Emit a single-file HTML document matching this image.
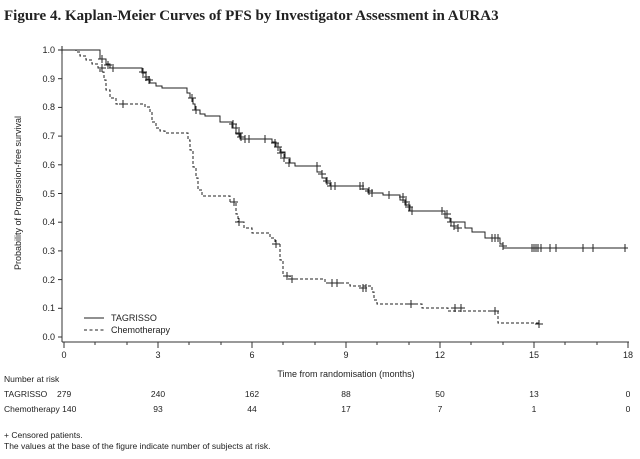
<!DOCTYPE html>
<html><head><style>
body{margin:0;background:#fff;width:640px;height:454px;overflow:hidden}
svg text{font-family:"Liberation Sans",sans-serif;fill:#222}
</style></head><body>
<svg width="640" height="454" xmlns="http://www.w3.org/2000/svg">
<text x="4" y="20" style="font-family:'Liberation Serif',serif;font-weight:bold;font-size:15px" fill="#000">Figure 4. Kaplan-Meier Curves of PFS by Investigator Assessment in AURA3</text>
<g stroke="#333" stroke-width="1" fill="none">
<line x1="62" y1="48" x2="62" y2="342"/>
<line x1="62" y1="342" x2="629" y2="342"/>
<g id="yt">
<line x1="58" y1="50" x2="62" y2="50"/><line x1="58" y1="78.7" x2="62" y2="78.7"/><line x1="58" y1="107.4" x2="62" y2="107.4"/><line x1="58" y1="136.1" x2="62" y2="136.1"/><line x1="58" y1="164.8" x2="62" y2="164.8"/><line x1="58" y1="193.5" x2="62" y2="193.5"/><line x1="58" y1="222.2" x2="62" y2="222.2"/><line x1="58" y1="250.9" x2="62" y2="250.9"/><line x1="58" y1="279.6" x2="62" y2="279.6"/><line x1="58" y1="308.3" x2="62" y2="308.3"/><line x1="58" y1="337" x2="62" y2="337"/>
</g>
<line x1="64" y1="342" x2="64" y2="348"/><line x1="158" y1="342" x2="158" y2="348"/><line x1="252" y1="342" x2="252" y2="348"/><line x1="346" y1="342" x2="346" y2="348"/><line x1="440" y1="342" x2="440" y2="348"/><line x1="534" y1="342" x2="534" y2="348"/><line x1="628" y1="342" x2="628" y2="348"/>
<line x1="95" y1="342" x2="95" y2="345"/><line x1="127" y1="342" x2="127" y2="345"/><line x1="189" y1="342" x2="189" y2="345"/><line x1="221" y1="342" x2="221" y2="345"/><line x1="283" y1="342" x2="283" y2="345"/><line x1="315" y1="342" x2="315" y2="345"/><line x1="377" y1="342" x2="377" y2="345"/><line x1="409" y1="342" x2="409" y2="345"/><line x1="471" y1="342" x2="471" y2="345"/><line x1="503" y1="342" x2="503" y2="345"/><line x1="565" y1="342" x2="565" y2="345"/><line x1="597" y1="342" x2="597" y2="345"/>
</g>
<g font-size="9" text-anchor="end">
<text x="55" y="53">1.0</text><text x="55" y="82">0.9</text><text x="55" y="110">0.8</text><text x="55" y="139">0.7</text><text x="55" y="168">0.6</text><text x="55" y="197">0.5</text><text x="55" y="225">0.4</text><text x="55" y="254">0.3</text><text x="55" y="283">0.2</text><text x="55" y="311">0.1</text><text x="55" y="340">0.0</text>
</g>
<text transform="translate(21,193) rotate(-90)" font-size="9" text-anchor="middle">Probability of Progression-free survival</text>
<g font-size="9" text-anchor="middle">
<text x="64" y="358">0</text><text x="158" y="358">3</text><text x="252" y="358">6</text><text x="346" y="358">9</text><text x="440" y="358">12</text><text x="534" y="358">15</text><text x="628" y="358">18</text>
<text x="346" y="377">Time from randomisation (months)</text>
</g>
<g font-size="8.5">
<text x="4" y="382">Number at risk</text>
<text x="4" y="397">TAGRISSO</text><text x="57" y="397">279</text>
<text x="4" y="412">Chemotherapy 140</text>
<text x="4" y="438">+ Censored patients.</text>
<text x="4" y="449">The values at the base of the figure indicate number of subjects at risk.</text>
</g>
<g font-size="8.5" text-anchor="middle">
<text x="158" y="397">240</text><text x="252" y="397">162</text><text x="346" y="397">88</text><text x="440" y="397">50</text><text x="534" y="397">13</text><text x="628" y="397">0</text>
<text x="158" y="412">93</text><text x="252" y="412">44</text><text x="346" y="412">17</text><text x="440" y="412">7</text><text x="534" y="412">1</text><text x="628" y="412">0</text>
</g>
<g fill="none" stroke="#222" stroke-width="1">
<path d="M64,50 H100 V59 H106 V64 H110 V68 H142 V73 H146 V79 H150 V83 H156 V86 H162 V88 H187 V93 H190 V98 H193 V104 H195 V110 H200 V114 H205 V116 H220 V122 H232 V128 H236 V134 H240 V139 H272 V142 H276 V147 H280 V152 H285 V158 H290 V163 H295 V166 H317 V172 H322 V178 H326 V183 H330 V186 H360 V189 H368 V193 H383 V195 H400 V200 H405 V205 H410 V211 H445 V218 H450 V222 H465 V228 H472 V232 H485 V238 H500 V244 H503 V248 H628"/>
<path stroke-dasharray="3,2" d="M64,50 H76 V52 H80 V56 H86 V60 H92 V64 H98 V68 H100 V72 H104 V80 H106 V90 H110 V98 H116 V104 H145 V107 H150 V112 H152 V122 H156 V128 H160 V131 H165 V133 H188 V140 H190 V150 H193 V167 H196 V178 H198 V190 H202 V196 H230 V202 H236 V214 H238 V222 H244 V228 H252 V233 H270 V238 H275 V244 H280 V260 H283 V276 H290 V279 H325 V283 H350 V286 H372 V292 H374 V300 H377 V304 H422 V308 H448 V311 H498 V323 H540"/>
</g>
<g stroke="#222" stroke-width="1">
<path d="M62,46v8M58,50h8 M102,55v8M98,59h8 M108,61v8M104,65h8 M113,64v8M109,68h8 M143,68v8M139,72h8 M146,73v8M142,77h8 M149,76v8M145,80h8 M192,94v8M188,98h8 M196,106v8M192,110h8 M233,120v8M229,124h8 M236,124v8M232,128h8 M239,129v8M235,133h8 M241,133v8M237,137h8 M245,135v8M241,139h8 M249,135v8M245,139h8 M265,135v8M261,139h8 M275,139v8M271,143h8 M278,143v8M274,147h8 M281,149v8M277,153h8 M284,154v8M280,158h8 M289,159v8M285,163h8 M317,162v8M313,166h8 M322,170v8M318,174h8 M327,177v8M323,181h8 M331,182v8M327,186h8 M335,182v8M331,186h8 M360,182v8M356,186h8 M363,182v8 M369,187v8M365,191h8 M372,189v8 M389,191v8 M403,193v8M399,197h8 M406,198v8M402,202h8 M409,203v8M405,207h8 M412,207v8M408,211h8 M442,207v8 M447,210v8M443,214h8 M451,218v8M447,222h8 M454,222v8M450,226h8 M458,224v8M454,228h8 M492,234v8 M495,234v8 M498,234v8 M503,242v8M499,246h8 M532,244v8 M534,244v8 M536,244v8 M538,244v8 M541,244v8 M550,244v8 M556,244v8 M583,244v8 M593,244v8 M625,244v8"/>
<path d="M102,64v8M98,68h8 M123,100v8M119,104h8 M234,198v8M230,202h8 M239,218v8M235,222h8 M276,240v8M272,244h8 M287,272v8M283,276h8 M292,275v8M288,279h8 M332,279v8M328,283h8 M337,279v8M333,283h8 M363,284v8M359,288h8 M366,284v8 M411,300v8M407,304h8 M455,304v8M451,308h8 M461,304v8M457,308h8 M495,307v8M491,311h8 M539,320v8M535,324h8"/>
</g>
<g stroke="#222" stroke-width="1">
<line x1="84" y1="318" x2="104" y2="318"/>
<line x1="84" y1="330" x2="104" y2="330" stroke-dasharray="3,2.5"/>
</g>
<text x="111" y="321" font-size="9">TAGRISSO</text>
<text x="111" y="333" font-size="9">Chemotherapy</text>
</svg>
</body></html>
